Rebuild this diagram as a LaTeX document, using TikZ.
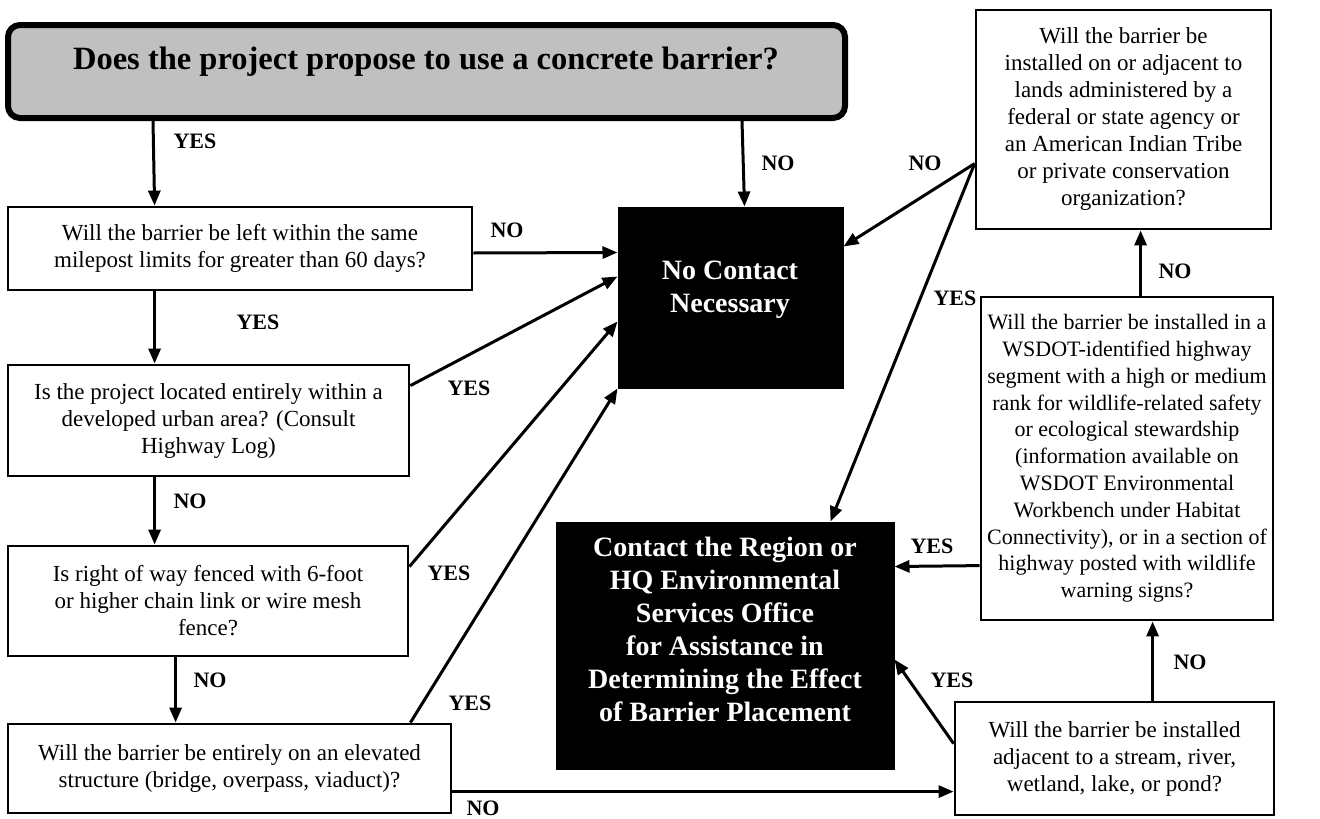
\documentclass[tikz,border=0pt]{standalone}
\usepackage{fontspec}
\setmainfont{Liberation Serif}
\usetikzlibrary{arrows.meta}
\begin{document}
\begin{tikzpicture}[x=1pt,y=-1pt,
  qbox/.style={draw=black, line width=2.8pt, align=center, inner sep=0pt, font=\fontsize{23}{27}\selectfont},
  blkbox/.style={draw=black, fill=black, line width=1pt, inner sep=0pt},
  blktext/.style={text=white, align=center, font=\bfseries\fontsize{28}{33}\selectfont},
  lbl/.style={font=\bfseries\fontsize{22}{26}\selectfont},
  arr/.style={line width=3pt, -{Triangle[length=15pt,width=12pt]}},
  ]
\useasboundingbox (0,0) rectangle (1320,819);
\definecolor{topgray}{RGB}{192,192,192}
% top question
\node[draw=black, fill=topgray, line width=6pt, rounded corners=12pt, minimum width=837pt, minimum height=93pt, inner sep=0pt] (top) at (426.5,71.5) {};
\node[font=\bfseries\fontsize{32.5}{36}\selectfont] (toptext) at (426,62) {Does the project propose to use a concrete barrier?};
% left column
\node[qbox, minimum width=464pt, minimum height=83pt] (b1) at (240,248.5) {Will the barrier be left within the same\\milepost limits for greater than 60 days?};
\node[qbox, minimum width=401pt, minimum height=111pt] (b2) at (208.5,420.5) {Is the project located entirely within a\\developed urban area? (Consult\\Highway Log)};
\node[qbox, minimum width=400pt, minimum height=110pt] (b3) at (208,601) {Is right of way fenced with 6-foot\\or higher chain link or wire mesh\\fence?};
\node[qbox, minimum width=443pt, minimum height=89pt] (b4) at (229.5,768.5) {Will the barrier be entirely on an elevated\\structure (bridge, overpass, viaduct)?};
% black boxes
\node[blkbox, minimum width=225pt, minimum height=181pt] (nc) at (730.5,297.5) {};
\node[blktext] (nctext) at (730,290) {No Contact\\Necessary};
\node[blkbox, minimum width=338pt, minimum height=247pt] (ct) at (725,645.5) {};
\node[blktext] (cttext) at (725,629) {Contact the Region or\\HQ Environmental\\Services Office\\for Assistance in\\Determining the Effect\\of Barrier Placement};
% right column
\node[qbox, minimum width=295pt, minimum height=219pt] (r1) at (1123.5,119.5) {Will the barrier be\\installed on or adjacent to\\lands administered by a\\federal or state agency or\\an American Indian Tribe\\or private conservation\\organization?};
\node[qbox, minimum width=292pt, minimum height=323pt, font=\fontsize{22}{26.8}\selectfont] (r2) at (1127,458.5) {Will the barrier be installed in a\\WSDOT-identified highway\\segment with a high or medium\\rank for wildlife-related safety\\or ecological stewardship\\(information available on\\WSDOT Environmental\\Workbench under Habitat\\Connectivity), or in a section of\\highway posted with wildlife\\warning signs?};
\node[qbox, minimum width=319pt, minimum height=113pt] (r3) at (1114.5,758.5) {Will the barrier be installed\\adjacent to a stream, river,\\wetland, lake, or pond?};
% connectors
\draw[arr] ([xshift=148pt]top.south west) -- ([xshift=148pt]b1.north west);
\draw[arr] ([xshift=737pt]top.south west) -- ([xshift=127pt]nc.north west);
\draw[arr] ([yshift=-4.5pt]b1.east) -- ([yshift=-46pt]nc.north west);
\draw[arr] ([xshift=148pt]b1.south west) -- ([xshift=148pt]b2.north west);
\draw[arr] ([yshift=-22pt]b2.north east) -- ([yshift=-70pt]nc.north west);
\draw[arr] ([xshift=148pt]b2.south west) -- ([xshift=148pt]b3.north west);
\draw[arr] ([yshift=-22pt]b3.north east) -- ([yshift=-115pt]nc.north west);
\draw[arr] ([xshift=169pt]b3.south west) -- ([xshift=169pt]b4.north west);
\draw[arr] ([xshift=-42pt]b4.north east) -- (nc.south west);
\draw[arr] ([yshift=-69pt]b4.north east) -- ([yshift=-91pt]r3.north west);
\draw[arr] ([xshift=199pt]r3.north west) -- ([xshift=173pt]r2.south west);
\draw[arr] ([yshift=-43pt]r3.north west) -- ([yshift=-138pt]ct.north east);
\draw[arr] ([xshift=161pt]r2.north west) -- ([xshift=166pt]r1.south west);
\draw[arr] ([yshift=-270pt]r2.north west) -- ([yshift=-45pt]ct.north east);
\draw[arr] ([yshift=-155pt]r1.north west) -- ([yshift=-40pt]nc.north east);
\draw[arr] ([yshift=-155pt]r1.north west) -- ([xshift=-64pt]ct.north east);
% labels
\node[lbl] (l1) at (195,141) {YES};
\node[lbl] (l2) at (778,163) {NO};
\node[lbl] (l3) at (507,230) {NO};
\node[lbl] (l4) at (258,322) {YES};
\node[lbl] (l5) at (469,388) {YES};
\node[lbl] (l6) at (190,501) {NO};
\node[lbl] (l7) at (449,573) {YES};
\node[lbl] (l8) at (210,680) {NO};
\node[lbl] (l9) at (470,703) {YES};
\node[lbl] (l10) at (483,808) {NO};
\node[lbl] (l11) at (925,163) {NO};
\node[lbl] (l12) at (955,298) {YES};
\node[lbl] (l13) at (1175,271) {NO};
\node[lbl] (l14) at (932,546) {YES};
\node[lbl] (l15) at (952,680) {YES};
\node[lbl] (l16) at (1190,662) {NO};
\end{tikzpicture}
\end{document}
